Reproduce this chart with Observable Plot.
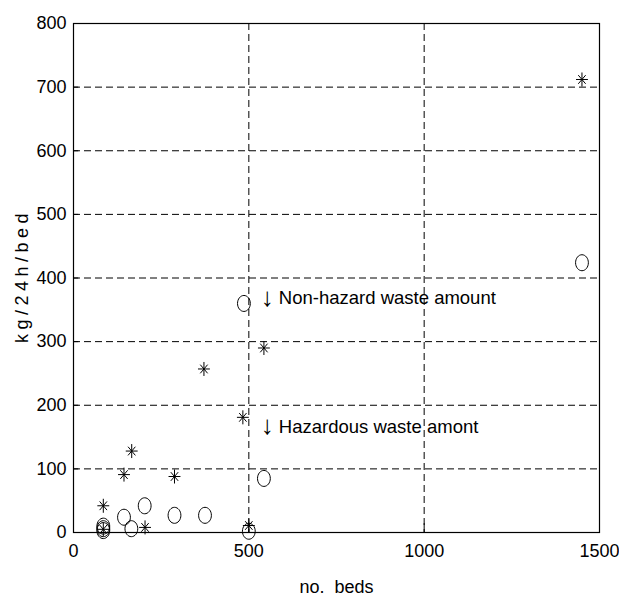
<!DOCTYPE html>
<html><head><meta charset="utf-8">
<script src="https://cdn.jsdelivr.net/npm/d3@7"></script>
<script src="https://cdn.jsdelivr.net/npm/@observablehq/plot@0.6"></script>
<style>
body{margin:0;background:#fff;}
svg text{font-family:"Liberation Sans",Arial,sans-serif;}
</style>
</head><body><div id="chart"></div>
<script>
// Series 1 (asterisks)
const starBeds = [1450, 543, 372, 483, 166, 144, 288, 85, 204, 500, 85];
const starKg   = [712, 290, 257, 181, 128, 91, 88, 42, 8, 11, 5];
// Series 2 (circles)
const circBeds = [1450, 486, 543, 203, 144, 165, 288, 375, 500, 85, 85, 85];
const circKg   = [424, 360, 85, 42, 24, 6, 27, 27, 2, 10, 6, 3];
// Ticks
const xTicks = [0, 500, 1000, 1500];
const yTicks = [0, 100, 200, 300, 400, 500, 600, 700, 800];
const xGrid = [500, 1000];
const yGrid = [100, 200, 300, 400, 500, 600, 700];
// Annotations
const noteText = ["Non-hazard waste amount", "Hazardous waste amont"];
const noteBeds = [540, 540];
const noteKg = [368, 166];

const stars = starBeds.map((b,i)=>({x:b,y:starKg[i]}));
const circs = circBeds.map((b,i)=>({x:b,y:circKg[i]}));
const notes = noteText.map((t,i)=>({t, x:noteBeds[i], y:noteKg[i]}));

const asterisk = {draw(ctx, size){
  const r = Math.sqrt(size/Math.PI), rx = r*0.85, ry = r, d = 0.62;
  ctx.moveTo(-rx,0); ctx.lineTo(rx,0);
  ctx.moveTo(0,-ry); ctx.lineTo(0,ry);
  ctx.moveTo(-rx*d,-ry*d); ctx.lineTo(rx*d,ry*d);
  ctx.moveTo(-rx*d,ry*d); ctx.lineTo(rx*d,-ry*d);
}};
const ellipse = {draw(ctx, size){
  const r = Math.sqrt(size/Math.PI), rx = r*0.8, ry = r, k = 0.5523;
  ctx.moveTo(rx,0);
  ctx.bezierCurveTo(rx, ry*k, rx*k, ry, 0, ry);
  ctx.bezierCurveTo(-rx*k, ry, -rx, ry*k, -rx, 0);
  ctx.bezierCurveTo(-rx, -ry*k, -rx*k, -ry, 0, -ry);
  ctx.bezierCurveTo(rx*k, -ry, rx, -ry*k, rx, 0);
  ctx.closePath();
}};

const chart = Plot.plot({
  width: 619, height: 598,
  marginLeft: 73, marginRight: 20, marginTop: 23, marginBottom: 66,
  style: {fontSize: "18px", fontFamily: "Liberation Sans, Arial, sans-serif", background: "#fff", color: "#000", overflow: "visible"},
  x: {domain: [0, 1500]},
  y: {domain: [0, 800]},
  marks: [
    Plot.ruleX(xGrid, {stroke: "#000", strokeWidth: 1, strokeDasharray: "7,4"}),
    Plot.ruleY(yGrid, {stroke: "#000", strokeWidth: 1, strokeDasharray: "7,4"}),
    Plot.ruleX(xTicks, {y1: 0, y2: 14, stroke: "#000"}),
    Plot.ruleY(yTicks, {x1: 0, x2: 15, stroke: "#000"}),
    Plot.frame({stroke: "#000", strokeWidth: 1.2}),
    Plot.axisX(xTicks, {tickSize: 0, tickPadding: 12, label: null, fontSize: 18, tickFormat: d => String(d)}),
    Plot.axisY(yTicks, {tickSize: 0, tickPadding: 7, label: null, fontSize: 18, tickFormat: d => String(d)}),
    Plot.dot(circs, {x: "x", y: "y", symbol: ellipse, r: 8, stroke: "#000", fill: "none", strokeWidth: 1}),
    Plot.dot(stars, {x: "x", y: "y", symbol: asterisk, r: 7, stroke: "#000", fill: "none", strokeWidth: 1}),
    Plot.text(notes, {x: "x", y: "y", text: () => "\u2193", textAnchor: "start", fontSize: 26, dx: -2, dy: -1}),
    Plot.text(notes, {x: "x", y: "y", text: "t", textAnchor: "start", fontSize: 18.5, dx: 16}),
    Plot.text(["no.  beds"], {frameAnchor: "bottom", dy: 60, fontSize: 18}),
    Plot.text(["kg/24h/bed"], {frameAnchor: "left", dx: -51, dy: 65, rotate: -90, fontSize: 18, className: "ylab"})
  ]
});
chart.querySelectorAll(".ylab text, text.ylab").forEach(el => {
  el.style.letterSpacing = "4.5px";
});
document.getElementById("chart").appendChild(chart);
</script>
</body></html>
